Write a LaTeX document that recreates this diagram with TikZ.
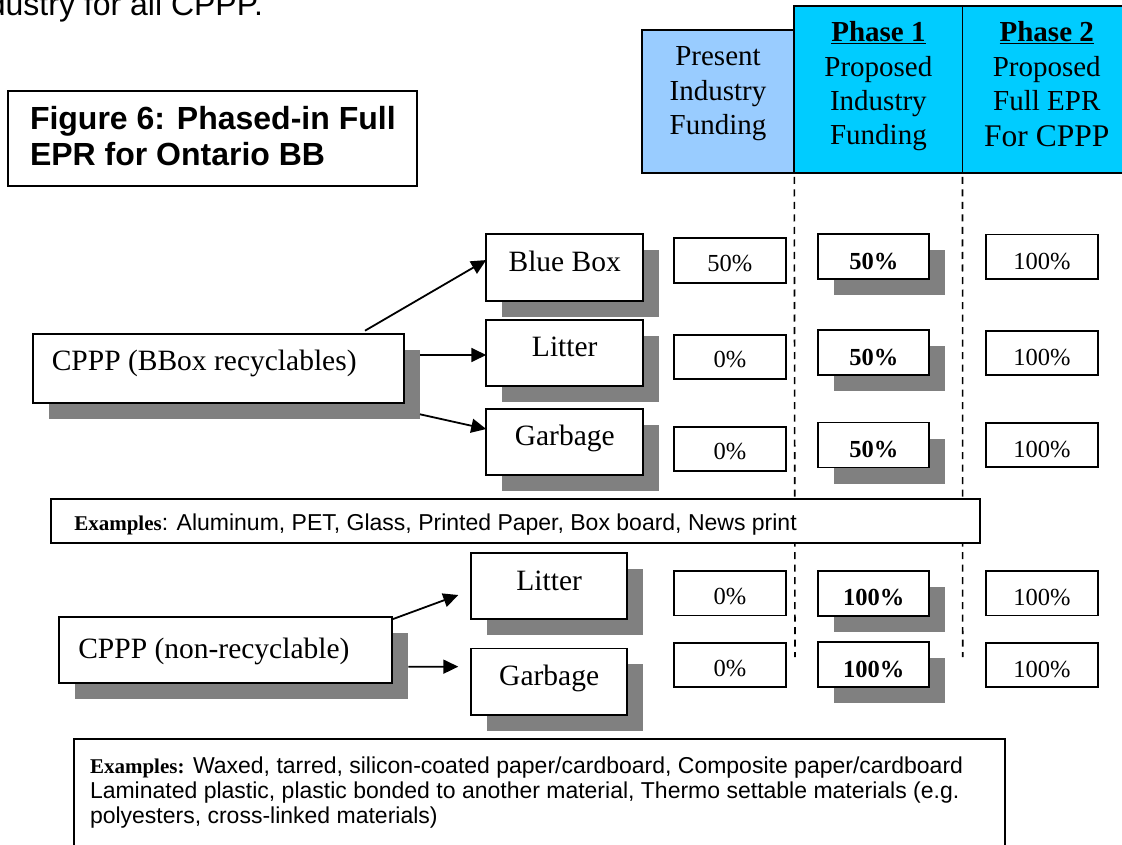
\documentclass[tikz,border=0pt]{standalone}
\usepackage{fontspec}
\setmainfont{Liberation Serif}
\newfontfamily\arial{Liberation Sans}
\usetikzlibrary{arrows.meta,calc,shadows}
\definecolor{lightblue}{HTML}{99CCFF}
\definecolor{cyanhead}{HTML}{00CCFF}
\definecolor{shadowgray}{HTML}{808080}
\newcommand{\fsz}[1]{\fontsize{#1pt}{#1pt}\selectfont}
\tikzset{
  box/.style={draw=black, line width=1.8pt, fill=white, inner sep=0pt, outer sep=0pt},
  shbox/.style={box, drop shadow={shadow xshift=16pt, shadow yshift=-16pt, fill=shadowgray, opacity=1}},
  txt/.style={inner sep=0pt, outer sep=0pt, anchor=base},
  big/.style={txt, font=\fsz{29.5}},
  head/.style={txt, font=\fsz{29}},
  pct/.style={txt, font=\fsz{24.5}},
  pctb/.style={txt, font=\bfseries\fsz{24.5}},
  pbox/.style={box, minimum width=111.5pt, minimum height=44.5pt},
  pboxs/.style={shbox, minimum width=111pt, minimum height=45pt},
  sbox/.style={shbox, minimum width=157pt, minimum height=66.5pt},
  arr/.style={-{Triangle[length=15pt,width=14pt]}, line width=1.8pt},
  dashln/.style={line width=1.6pt, dash pattern=on 7pt off 5.5pt},
  extxt/.style={txt, anchor=base west, font=\arial\fsz{23}}
}
\begin{document}
\begin{tikzpicture}[x=1pt,y=-1pt]
\useasboundingbox (0,0) rectangle (1122,845);
\clip (0,0) rectangle (1122,845);

% cut-off line of text at the top
\node[txt, anchor=base east, font=\arial\fsz{32}] (toptext) at (263,16) {industry for all CPPP.};

% title
\node[box, minimum width=409pt, minimum height=95pt] (title) at (212.5,138.5) {};
\node[txt, anchor=base west, font=\arial\bfseries\fsz{32}] (titleA) at (30,130) {Figure 6: Phased-in Full};
\node[txt, anchor=base west, font=\arial\bfseries\fsz{32}] (titleB) at (30,166) {EPR for Ontario BB};

% column headers
\node[box, fill=lightblue, minimum width=152.6pt, minimum height=143pt] (pres) at (718,101.5) {};
\node[box, fill=cyanhead, minimum width=168.2pt, minimum height=167pt] (ph1) at (878.4,89.5) {};
\node[box, fill=cyanhead, minimum width=168.5pt, minimum height=167pt] (ph2) at (1046.75,89.5) {};

\node[head] (presA) at (718,66) {Present};
\node[head] (presB) at (718,100.5) {Industry};
\node[head] (presC) at (718,135) {Funding};

\node[head, font=\bfseries\fsz{29}] (ph1A) at (878.4,42) {\underline{Phase 1}};
\node[head] (ph1B) at (878.4,77) {Proposed};
\node[head] (ph1C) at (878.4,111) {Industry};
\node[head] (ph1D) at (878.4,145) {Funding};

\node[head, font=\bfseries\fsz{29}] (ph2A) at (1046.75,42) {\underline{Phase 2}};
\node[head] (ph2B) at (1046.75,77) {Proposed};
\node[head] (ph2C) at (1046.75,111) {Full EPR};
\node[head, font=\fsz{31.5}] (ph2D) at (1046.75,146.7) {For CPPP};

% dashed separators
\coordinate (d1end) at (795,657);
\coordinate (d2end) at (962.7,657);
\draw[dashln] ([yshift=-4pt]ph1.south west) -- (d1end);
\draw[dashln] ([yshift=-4pt]ph2.south west) -- (d2end);

% ---- group 1: recyclables
\node[shbox, minimum width=371pt, minimum height=68.4pt] (c1) at (218.5,368.5) {};
\node[big, anchor=base west] (c1t) at (51.8,370.7) {CPPP (BBox recyclables)};

\node[sbox] (bb) at (564.75,267.65) {};
\node[big] (bbt) at (564.75,271.7) {Blue Box};
\node[sbox] (lit1) at (564.75,353) {};
\node[big] (lit1t) at (564.75,356.7) {Litter};
\node[sbox] (gar1) at (564.75,441.85) {};
\node[big] (gar1t) at (564.75,445.7) {Garbage};

\draw[arr] ($(c1.north east)+(-39,-3.6)$) -- ($(bb.west)+(0,-7.6)$);
\draw[arr] ($(c1.east)+(16,-13.5)$) -- ($(lit1.west)+(0,2)$);
\draw[arr] ($(c1.south east)+(16,11.6)$) -- ($(gar1.west)+(0,-12.8)$);

% percentages group 1
\node[pbox] (a1) at (729.85,260.5) {};
\node[pct] (a1t) at (729.85,271.7) {50\%};
\node[pbox] (a2) at (729.85,356.85) {};
\node[pct] (a2t) at (729.85,367) {0\%};
\node[pbox] (a3) at (729.85,449) {};
\node[pct] (a3t) at (729.85,459) {0\%};

\node[pboxs] (b1) at (873.8,256.8) {};
\node[pctb] (b1t) at (873.8,269.3) {50\%};
\node[pboxs] (b2) at (873.8,352.85) {};
\node[pctb] (b2t) at (873.8,365) {50\%};
\node[pboxs] (b3) at (873.8,445) {};
\node[pctb] (b3t) at (873.8,457.3) {50\%};

\node[pbox] (cc1) at (1041.85,256.8) {};
\node[pct] (cc1t) at (1041.85,269.3) {100\%};
\node[pbox] (cc2) at (1041.85,352.85) {};
\node[pct] (cc2t) at (1041.85,365) {100\%};
\node[pbox] (cc3) at (1041.85,445) {};
\node[pct] (cc3t) at (1041.85,457.3) {100\%};

% examples 1
\node[box, minimum width=929.3pt, minimum height=44.3pt] (ex1) at (515.35,521.15) {};
\node[extxt] (ex1t) at (74.3,530) {{\rmfamily\bfseries\fsz{21}Examples}: Aluminum, PET, Glass, Printed Paper, Box board, News print};

% ---- group 2: non-recyclables
\node[shbox, minimum width=332.4pt, minimum height=66pt] (c2) at (225.5,649.7) {};
\node[big, anchor=base west] (c2t) at (78.3,658.3) {CPPP (non-recyclable)};

\node[sbox, minimum width=156.3pt] (lit2) at (549.15,586) {};
\node[big] (lit2t) at (549.15,590.7) {Litter};
\node[sbox, minimum width=156.3pt] (gar2) at (549.15,681.65) {};
\node[big] (gar2t) at (549.15,685.7) {Garbage};

\draw[arr] ($(c2.north east)+(0.6,2.6)$) -- ($(lit2.west)+(-12.7,9)$);
\draw[arr] ($(c2.east)+(16.6,17)$) -- ($(gar2.west)+(-12.7,-15)$);

\node[pbox] (a4) at (729.85,593.15) {};
\node[pct] (a4t) at (729.85,604) {0\%};
\node[pbox] (a5) at (729.85,664.85) {};
\node[pct] (a5t) at (729.85,676.7) {0\%};

\node[pboxs] (b4) at (873.8,593.15) {};
\node[pctb] (b4t) at (873.8,605) {100\%};
\node[pboxs] (b5) at (873.8,664.85) {};
\node[pctb] (b5t) at (873.8,677) {100\%};

\node[pbox] (cc4) at (1041.85,593.15) {};
\node[pct] (cc4t) at (1041.85,605) {100\%};
\node[pbox] (cc5) at (1041.85,664.85) {};
\node[pct] (cc5t) at (1041.85,677) {100\%};

% examples 2
\node[box, minimum width=931pt, minimum height=131pt] (ex2) at (539.5,804.5) {};
\node[extxt] (ex2a) at (90,773.3) {{\rmfamily\bfseries\fsz{21}Examples:} Waxed, tarred, silicon-coated paper/cardboard, Composite paper/cardboard};
\node[extxt] (ex2b) at (90,798.3) {Laminated plastic, plastic bonded to another material, Thermo settable materials (e.g.};
\node[extxt] (ex2c) at (90,823.3) {polyesters, cross-linked materials)};
\end{tikzpicture}
\end{document}
